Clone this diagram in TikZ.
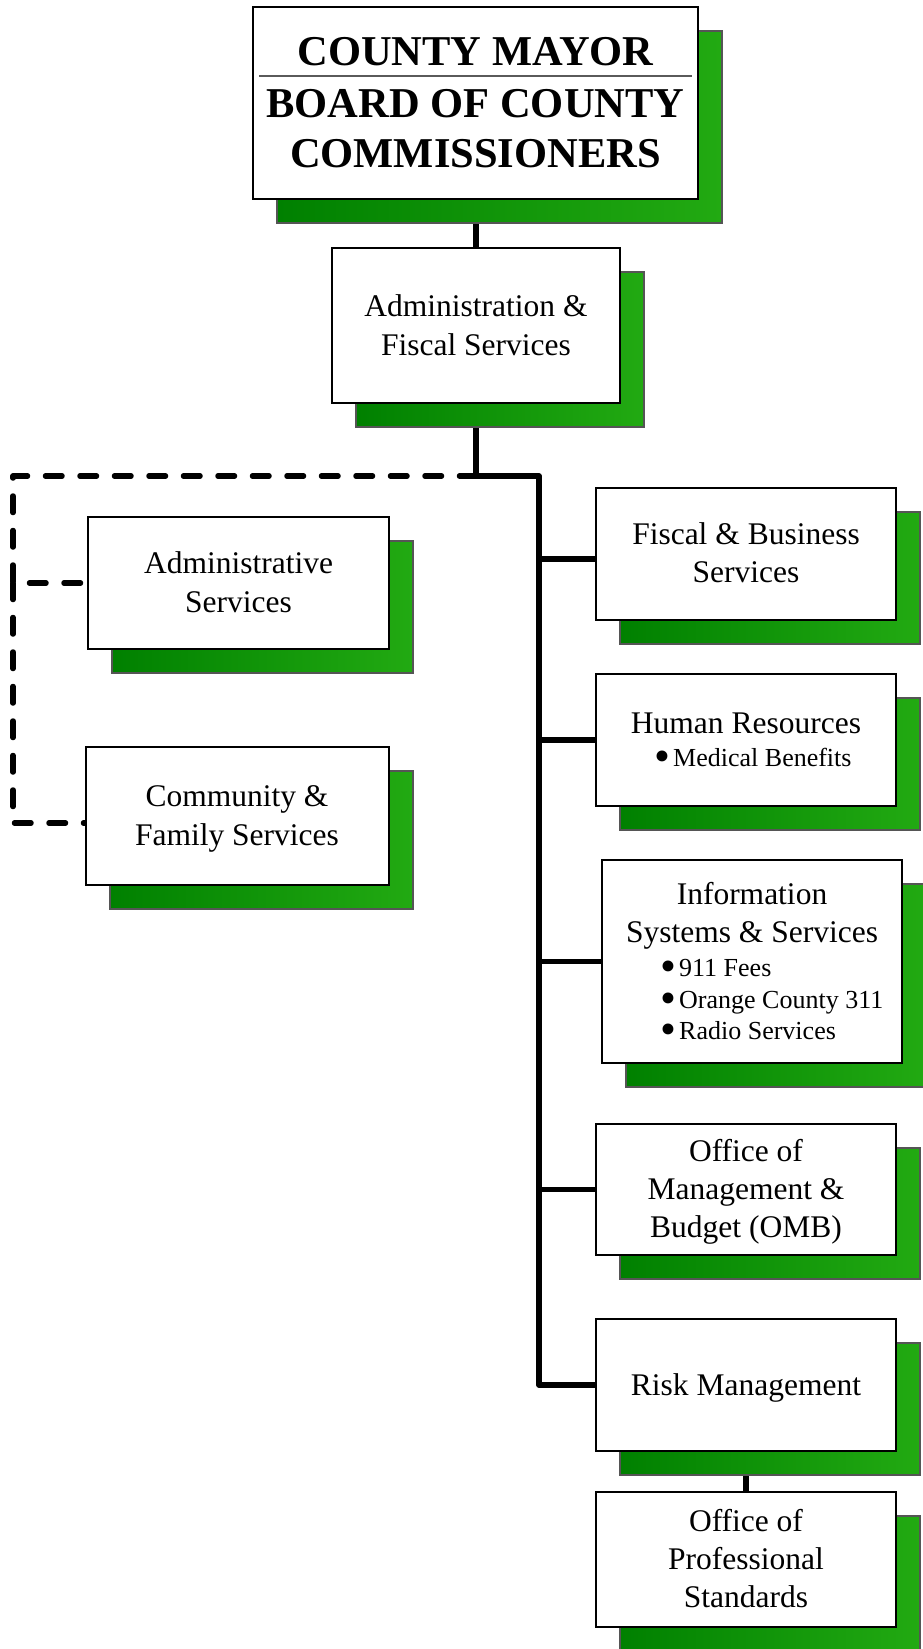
\documentclass[tikz,border=0pt]{standalone}
\usepackage{fontspec}
\usepackage{graphicx}
\setmainfont{Liberation Serif}
\usetikzlibrary{calc}
\definecolor{gL}{RGB}{0,128,0}
\definecolor{gR}{RGB}{34,170,18}
\definecolor{shadowedge}{RGB}{85,85,85}
\definecolor{sepgray}{RGB}{90,90,90}
\pgfdeclarelayer{conn}
\pgfsetlayers{conn,main}
% org-chart box with its offset green shadow: name, cx, cy, width, height
\newcommand\orgbox[5]{%
  \node[shadowbox,minimum width=#4pt,minimum height=#5pt] (#1-sh) at (#2+24,#3+24) {};
  \node[box,minimum width=#4pt,minimum height=#5pt] (#1) at (#2,#3) {};
}
% enlarged list bullet (kept out of the line height)
\newcommand\blt{\makebox[19pt][l]{\smash{\raisebox{-5.5pt}{\scalebox{1.75}{•}}}}}
\begin{document}
\begin{tikzpicture}[x=1pt,y=-1pt,
  box/.style={rectangle,draw=black,line width=2pt,fill=white,inner sep=0pt},
  shadowbox/.style={rectangle,draw=shadowedge,line width=1.5pt,left color=gL,right color=gR,inner sep=0pt},
  conn/.style={line width=5.5pt,line join=round},
  dashconn/.style={line width=5.5pt,dash pattern=on 16.5pt off 18pt,line cap=round,line join=round},
  txt/.style={anchor=base,inner sep=0pt,font=\fontsize{31.5}{37.8}\selectfont},
  sub/.style={anchor=base west,inner sep=0pt,font=\fontsize{26}{31}\selectfont},
  head/.style={anchor=base,inner sep=0pt,font=\fontsize{42.5}{51}\selectfont\bfseries}]
\useasboundingbox (0,0) rectangle (923,1649);
\clip (0,0) rectangle (923,1649);

% boxes
\orgbox{top}{475.5}{103}{445}{192}
\orgbox{adm}{476}{325.5}{288}{155}
\orgbox{as}{238.5}{583}{301}{132}
\orgbox{cf}{237.5}{816}{303}{138}
\orgbox{fis}{746}{554}{300}{132}
\orgbox{hr}{746}{740}{300}{132}
\orgbox{info}{752}{961.5}{300}{203}
\orgbox{omb}{746}{1189.5}{300}{131}
\orgbox{risk}{746}{1385}{300}{132}
\orgbox{prof}{746}{1559.5}{300}{135}

% head box
\node[head] (top-1) at (475.5,65) {COUNTY MAYOR};
\draw[line width=1.5pt,sepgray] (259,76) -- (692,76);
\node[head] (top-2) at (475.5,117) {BOARD OF COUNTY};
\node[head] (top-3) at (475.5,167) {COMMISSIONERS};

% labels
\node[txt] (adm-1) at (476,316) {Administration \&};
\node[txt] (adm-2) at (476,355) {Fiscal Services};
\node[txt] (as-1) at (238.5,573) {Administrative};
\node[txt] (as-2) at (238.5,612) {Services};
\node[txt] (cf-1) at (237,806) {Community \&};
\node[txt] (cf-2) at (237,845) {Family Services};
\node[txt] (fis-1) at (746,544) {Fiscal \& Business};
\node[txt] (fis-2) at (746,582) {Services};
\node[txt] (hr-1) at (746,733) {Human Resources};
\node[sub] (hr-b1) at (654,766) {\blt Medical Benefits};
\node[txt] (info-1) at (752,904) {Information};
\node[txt] (info-2) at (752,942) {Systems \& Services};
\node[sub] (info-b1) at (660,976) {\blt 911 Fees};
\node[sub] (info-b2) at (660,1008) {\blt Orange County 311};
\node[sub] (info-b3) at (660,1039) {\blt Radio Services};
\node[txt] (omb-1) at (746,1161) {Office of};
\node[txt] (omb-2) at (746,1199) {Management \&};
\node[txt] (omb-3) at (746,1237) {Budget (OMB)};
\node[txt] (risk-1) at (746,1395) {Risk Management};
\node[txt] (prof-1) at (746,1531) {Office of};
\node[txt] (prof-2) at (746,1569) {Professional};
\node[txt] (prof-3) at (746,1607) {Standards};

% connectors
\coordinate (jn) at (476,476);
\coordinate (tr) at (539,476);
\coordinate (dl) at (13,476);
\coordinate (fisin) at ($(fis.west)+(0,5)$);
\coordinate (cfin) at ($(cf.west)+(0,7)$);
\begin{pgfonlayer}{conn}
  \draw[conn] (adm.north) -- (adm.north |- top.south);
  \draw[conn] (adm.south) |- (tr) |- (risk.west);
  \draw[conn] (tr |- fisin) -- (fisin);
  \draw[conn] (tr |- hr.west) -- (hr.west);
  \draw[conn] (tr |- info.west) -- (info.west);
  \draw[conn] (tr |- omb.west) -- (omb.west);
  \draw[conn] (risk.south) -- (prof.north);
  \draw[dashconn] (jn) -- (dl) |- (as.west);
  \draw[dashconn] (dl |- as.west) |- (cfin);
\end{pgfonlayer}
\end{tikzpicture}
\end{document}
